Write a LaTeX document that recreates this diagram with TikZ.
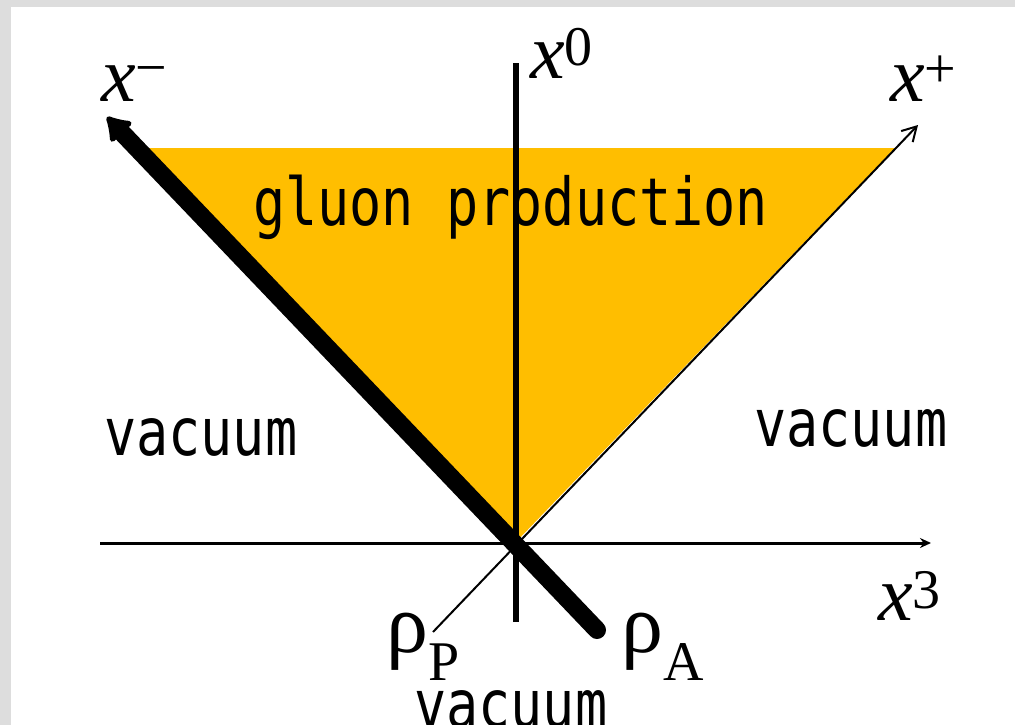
\documentclass[tikz,border=0pt]{standalone}
\usepackage{fontspec}
\usetikzlibrary{arrows.meta}
\newfontfamily\monofnt[FakeStretch=0.81]{DejaVu Sans Mono}
\newfontfamily\labfnt{Liberation Serif}
\definecolor{glorange}{RGB}{255,190,0}
\definecolor{frame}{RGB}{221,221,221}
\newcommand{\supr}[2]{\raisebox{#1pt}{\fontsize{56}{56}\selectfont #2}}
\newcommand{\subr}[1]{\raisebox{-28pt}{\fontsize{56}{56}\selectfont #1}}
\begin{document}
\begin{tikzpicture}[x=1pt,y=-1pt,
  word/.style={inner sep=0pt,anchor=base west,font=\monofnt\fontsize{66}{66}\selectfont},
  axlab/.style={inner sep=0pt,anchor=base west,font=\labfnt\fontsize{78}{78}\selectfont},
  rholab/.style={inner sep=0pt,anchor=base west,font=\labfnt\fontsize{84}{84}\selectfont}]
\useasboundingbox (0,0) rectangle (1015,725);
\fill[frame] (0,0) rectangle (1015,725);
\fill[white] (11,7) rectangle (1015,725);
% key points
\coordinate (O) at (515,543);
\coordinate (H0) at (100,543);
\coordinate (H1) at (931,543);
\coordinate (V0) at (516,622);
\coordinate (V1) at (516,63);
\coordinate (A0) at (597,630);
\coordinate (A1) at (107,117);
\coordinate (P0) at (433,632);
\coordinate (P1) at (918,125);
\coordinate (TL) at (135,148);
\coordinate (TR) at (895,148);
% production region
\fill[glorange] (O) -- (TL) -- (TR) -- cycle;
% text in region
\node[word] (glu) at (253,225) {gluon production};
% axes
\draw[line width=3pt,-{Stealth[length=11pt,width=10pt]}] (H0) -- (H1);
\draw[line width=6pt] (V0) -- (V1);
% light-cone lines
\draw[line width=2pt,-{Straight Barb[length=14pt,width=16pt]}] (P0) -- (P1);
\draw[line width=18pt,line cap=round,-{Latex[length=26pt,width=36pt,round]}] (A0) -- (A1);
% labels
\node[axlab] (xm) at (101,101) {\itshape x\upshape\supr{14}{−}};
\node[axlab] (x0) at (530,78) {\itshape x\upshape\supr{13}{0}};
\node[axlab] (xp) at (890,102) {\itshape x\upshape\supr{14}{+}};
\node[axlab] (x3) at (878,620) {\itshape x\upshape\supr{12}{3}};
\node[rholab] (rp) at (386,652) {ρ\subr{P}};
\node[rholab] (ra) at (621,652) {ρ\subr{A}};
\node[word] (vl) at (104,455) {vacuum};
\node[word] (vr) at (754,446) {vacuum};
\node[word] (vb) at (414,727) {vacuum};
\end{tikzpicture}
\end{document}
